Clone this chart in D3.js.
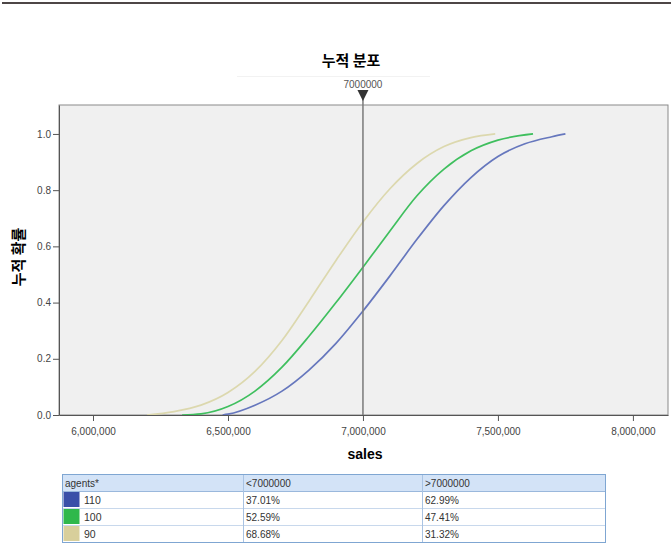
<!DOCTYPE html>
<html>
<head>
<meta charset="utf-8">
<script src="https://cdn.jsdelivr.net/npm/d3@7"></script>
<style>
  body { margin: 0; background: #fff; }
  svg { display: block; font-family: "Liberation Sans", Arial, sans-serif; }
  .kr { font-family: "Noto Sans CJK KR", sans-serif; font-weight: bold; }
</style>
</head>
<body>
<div id="chart"></div>
<script>
// values
const groups = ["110", "100", "90"]
const cutValue = 7000000
const lessPct = ["37.01%", "52.59%", "68.68%"]
const morePct = ["62.99%", "47.41%", "31.32%"]
const xTicks = [6000000, 6500000, 7000000, 7500000, 8000000]
const yTicks = [0, 0.2, 0.4, 0.6, 0.8, 1.0]

const sales110 = [6480000, 6500000, 6600000, 6700000, 6800000, 6900000, 7000000, 7100000, 7200000, 7300000, 7400000, 7500000, 7600000, 7700000, 7750000]
const prob110 = [0, 0.003, 0.035, 0.085, 0.16, 0.255, 0.370, 0.495, 0.625, 0.745, 0.845, 0.92, 0.965, 0.99, 1.0]

const sales100 = [6330000, 6400000, 6500000, 6600000, 6700000, 6800000, 6900000, 7000000, 7100000, 7200000, 7300000, 7400000, 7500000, 7630000]
const prob100 = [0, 0.004, 0.03, 0.085, 0.17, 0.28, 0.40, 0.526, 0.655, 0.78, 0.875, 0.94, 0.978, 1.0]

const sales90 = [6200000, 6300000, 6400000, 6500000, 6600000, 6700000, 6800000, 6900000, 7000000, 7100000, 7200000, 7300000, 7400000, 7490000]
const prob90 = [0, 0.012, 0.035, 0.08, 0.155, 0.265, 0.405, 0.55, 0.687, 0.805, 0.895, 0.955, 0.987, 1.0]

const lineColors = ["#6677bd", "#3fbf5e", "#dcd8ae"]
const swatchColors = ["#3a4fa8", "#2fb84b", "#d8cf9b"]

const W = 671, H = 548
const PLOT = { LEFT: 59, RIGHT: 668, TOP: 105, BOTTOM: 415 }

const svg = d3.select("#chart").append("svg")
    .attr("width", W)
    .attr("height", H)

// top rule
svg.append("rect").attr("x", 2).attr("y", 2).attr("width", W - 2).attr("height", 2).attr("fill", "#4d4646")

const x = d3.scaleLinear()
    .domain([5874000, 8130000])
    .range([PLOT.LEFT, PLOT.RIGHT])

const y = d3.scaleLinear()
    .domain([0, 1.103])
    .range([PLOT.BOTTOM, PLOT.TOP])

// title
svg.append("text")
    .attr("class", "kr")
    .attr("x", 351).attr("y", 66)
    .attr("text-anchor", "middle")
    .style("font-size", "15px")
    .text("누적 분포")

// faint slider line
svg.append("line")
    .attr("x1", 237).attr("x2", 430).attr("y1", 76.5).attr("y2", 76.5)
    .attr("stroke", "#f2f2f2")

// plot background
svg.append("rect")
    .attr("x", PLOT.LEFT).attr("y", PLOT.TOP)
    .attr("width", PLOT.RIGHT - PLOT.LEFT).attr("height", PLOT.BOTTOM - PLOT.TOP)
    .attr("fill", "#f0f0f0")
    .attr("stroke", "#8a8a8a")

// curves
const line = d3.line()
    .x(d => x(d[0]))
    .y(d => y(d[1]))
    .curve(d3.curveMonotoneX)

const series = [d3.zip(sales110, prob110), d3.zip(sales100, prob100), d3.zip(sales90, prob90)]
series.slice().reverse().forEach((s, i) => {
    svg.append("path")
        .datum(s)
        .attr("fill", "none")
        .attr("stroke", lineColors[2 - i])
        .attr("stroke-width", 1.7)
        .attr("d", line)
})

// cut marker
const cx = x(cutValue)
svg.append("line")
    .attr("x1", cx).attr("x2", cx).attr("y1", 99).attr("y2", PLOT.BOTTOM)
    .attr("stroke", "#7a7a7a").attr("stroke-width", 1.5)

svg.append("path")
    .attr("d", `M${cx - 5.5},90 L${cx + 5.5},90 L${cx},101 Z`)
    .attr("fill", "#333")

svg.append("text")
    .attr("x", cx).attr("y", 88)
    .attr("text-anchor", "middle")
    .style("font-size", "10px")
    .attr("fill", "#555")
    .text(d3.format("d")(cutValue))

// axes
const xAxis = svg.append("g")
    .attr("transform", `translate(0,${PLOT.BOTTOM})`)
    .call(d3.axisBottom(x).tickValues(xTicks).tickFormat(d3.format(",")).tickSize(6).tickSizeOuter(0))
xAxis.select(".domain").attr("stroke", "#555")
xAxis.selectAll(".tick line").attr("stroke", "#555")
xAxis.selectAll("text").attr("fill", "#444").style("font-size", "10px").attr("dy", "1.05em")

const yAxis = svg.append("g")
    .attr("transform", `translate(${PLOT.LEFT},0)`)
    .call(d3.axisLeft(y).tickValues(yTicks).tickFormat(d3.format(".1f")).tickSize(6).tickSizeOuter(0))
yAxis.select(".domain").attr("stroke", "#555")
yAxis.selectAll(".tick line").attr("stroke", "#555")
yAxis.selectAll("text").attr("fill", "#444").style("font-size", "10px").attr("x", -8)

// axis titles
svg.append("text")
    .attr("x", 365).attr("y", 459)
    .attr("text-anchor", "middle")
    .style("font-size", "14px").style("font-weight", "bold")
    .text("sales")

svg.append("text")
    .attr("class", "kr")
    .attr("transform", "translate(24,257) rotate(-90)")
    .attr("text-anchor", "middle")
    .style("font-size", "15px")
    .text("누적 확률")

// table
const T = { LEFT: 62, TOP: 474, ROW: 17 }
const cols = [62, 243, 422, 606]
const header = ["agents*", "<" + cutValue, ">" + cutValue]
const table = svg.append("g")

table.append("rect")
    .attr("x", cols[0]).attr("y", T.TOP)
    .attr("width", cols[3] - cols[0]).attr("height", T.ROW)
    .attr("fill", "#d3e3f7")

header.forEach((h, i) => {
    table.append("text")
        .attr("x", cols[i] + 3).attr("y", T.TOP + 12.5)
        .style("font-size", "10px").attr("fill", "#333")
        .text(h)
})

groups.forEach((g, i) => {
    const ry = T.TOP + T.ROW * (i + 1)
    table.append("rect")
        .attr("x", cols[0] + 1.5).attr("y", ry + 1)
        .attr("width", 16).attr("height", T.ROW - 2)
        .attr("fill", swatchColors[i])
    table.append("text")
        .attr("x", cols[0] + 22).attr("y", ry + 12.5)
        .style("font-size", "10.5px").attr("fill", "#333")
        .text(g)
    table.append("text")
        .attr("x", cols[1] + 3).attr("y", ry + 12.5)
        .style("font-size", "10px").attr("fill", "#333")
        .text(lessPct[i])
    table.append("text")
        .attr("x", cols[2] + 3).attr("y", ry + 12.5)
        .style("font-size", "10px").attr("fill", "#333")
        .text(morePct[i])
})

// grid lines of the table
for (let r = 1; r <= groups.length; r++) {
    table.append("line")
        .attr("x1", cols[0]).attr("x2", cols[3])
        .attr("y1", T.TOP + T.ROW * r + 0.5).attr("y2", T.TOP + T.ROW * r + 0.5)
        .attr("stroke", r === 1 ? "#9ab8dc" : "#c8d8ec")
}
cols.slice(1, 3).forEach(c => {
    table.append("line")
        .attr("x1", c + 0.5).attr("x2", c + 0.5)
        .attr("y1", T.TOP).attr("y2", T.TOP + T.ROW * 4)
        .attr("stroke", "#a9c3e3")
})
table.append("rect")
    .attr("x", cols[0] + 0.5).attr("y", T.TOP + 0.5)
    .attr("width", cols[3] - cols[0] - 1).attr("height", T.ROW * 4)
    .attr("fill", "none")
    .attr("stroke", "#7fa6d2")
</script>
</body>
</html>
